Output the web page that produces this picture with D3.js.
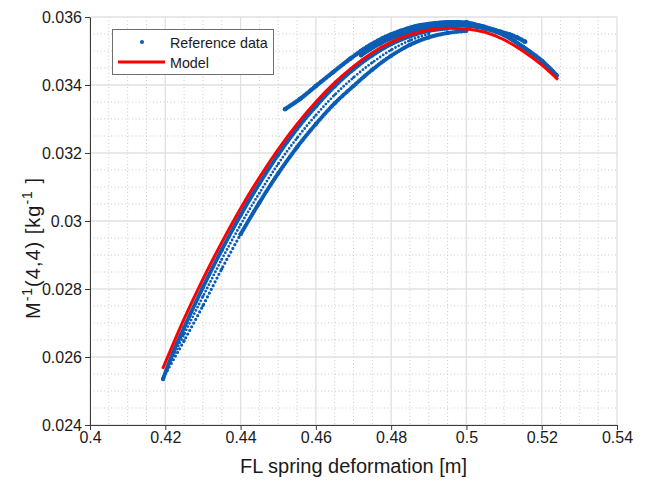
<!DOCTYPE html>
<html><head><meta charset="utf-8">
<script src="https://cdn.jsdelivr.net/npm/d3@7"></script>
<style>
body{margin:0;background:#fff;}
svg text{font-family:"Liberation Sans",Arial,Helvetica,sans-serif;fill:#1a1a1a;}
</style></head><body>
<svg id="chart" width="650" height="481"></svg>
<script>
// ---- tick values and labels ----
const xTicks = [0.4, 0.42, 0.44, 0.46, 0.48, 0.5, 0.52, 0.54];
const xTickLabels = ["0.4", "0.42", "0.44", "0.46", "0.48", "0.5", "0.52", "0.54"];
const yTicks = [0.024, 0.026, 0.028, 0.03, 0.032, 0.034, 0.036];
const yTickLabels = ["0.024", "0.026", "0.028", "0.03", "0.032", "0.034", "0.036"];

// ---- model (red line) ----
const modelX = [0.4193, 0.425, 0.43, 0.435, 0.44, 0.445, 0.45, 0.455, 0.46, 0.465, 0.47, 0.475, 0.48, 0.485, 0.49, 0.495, 0.5, 0.505, 0.51, 0.515, 0.52, 0.5243];
const modelY = [0.02565, 0.02712, 0.02829, 0.02937, 0.03037, 0.03128, 0.03211, 0.03285, 0.0335, 0.03407, 0.03455, 0.03495, 0.03526, 0.03548, 0.03562, 0.03567, 0.03565, 0.03555, 0.03533, 0.035, 0.03459, 0.03416];

// ---- reference data (blue dots), read as strands of the point cloud ----
const refInner = [[0.4194,0.02535],[0.422,0.02611],[0.425,0.02686],[0.43,0.02805],[0.435,0.02915],[0.44,0.03017],[0.445,0.0311],[0.45,0.03195],[0.455,0.03271],[0.46,0.03337],[0.465,0.03396],[0.47,0.03446],[0.475,0.03487],[0.48,0.0352],[0.485,0.03543],[0.49,0.03559],[0.495,0.03566]];
const refMiddle = [[0.4205,0.02566],[0.425,0.02667],[0.43,0.02778],[0.435,0.02887],[0.44,0.02989],[0.445,0.03082],[0.45,0.03168],[0.455,0.03244],[0.46,0.03311],[0.465,0.03371],[0.47,0.03422],[0.475,0.03466],[0.48,0.03503],[0.485,0.03531],[0.49,0.0355]];
const refOuterLow = [[0.4205,0.0256],[0.425,0.02648],[0.43,0.02751],[0.435,0.02859],[0.44,0.02961]];
const refOuter = [[0.44,0.02961],[0.445,0.03054],[0.45,0.0314],[0.455,0.03217],[0.46,0.03285],[0.465,0.03346],[0.47,0.03397],[0.475,0.03445],[0.48,0.03486],[0.485,0.03518],[0.49,0.0354],[0.495,0.03553],[0.5,0.03559]];
const refUpper = [[0.4518,0.03329],[0.4558,0.03359],[0.46,0.03397],[0.4646,0.03438],[0.4691,0.03477],[0.4736,0.03512],[0.4778,0.03538],[0.4824,0.03559],[0.4869,0.03574],[0.4917,0.03582],[0.4956,0.03585],[0.5,0.03584]];
const refUpperMid = [[0.472,0.03488],[0.477,0.03522],[0.482,0.03546],[0.487,0.03562],[0.492,0.03572],[0.497,0.03576]];
const refUpperRight = [[0.5,0.03584],[0.5044,0.03572],[0.5089,0.03557],[0.5116,0.03548],[0.5134,0.0354],[0.5156,0.03527]];
const refRight = [[0.485,0.03556],[0.49,0.03571],[0.495,0.03577],[0.5,0.03575],[0.505,0.03566],[0.51,0.03547],[0.515,0.03512],[0.52,0.03471],[0.524,0.03428]];

// ---- layout ----
const svg = d3.select("#chart");
const L = 90, R = 617, T = 17, B = 425;
const x = d3.scaleLinear().domain([0.4, 0.54]).range([L, R]);
const y = d3.scaleLinear().domain([0.024, 0.036]).range([B, T]);
const blue = "#0b5cb3";

// grid
const g = svg.append("g");
const xMinor = d3.range(0.4, 0.5401, 0.005).filter(v => !xTicks.some(t => Math.abs(t - v) < 1e-6));
const yMinor = d3.range(0.024, 0.03601, 0.0005).filter(v => !yTicks.some(t => Math.abs(t - v) < 1e-7));
g.selectAll(".xm").data(xMinor).join("line").attr("x1", d => x(d)).attr("x2", d => x(d)).attr("y1", T).attr("y2", B)
  .attr("stroke", "#cbcbcb").attr("stroke-width", 1).attr("stroke-dasharray", "1,2.5");
g.selectAll(".ym").data(yMinor).join("line").attr("y1", d => y(d)).attr("y2", d => y(d)).attr("x1", L).attr("x2", R)
  .attr("stroke", "#cbcbcb").attr("stroke-width", 1).attr("stroke-dasharray", "1,2.5");
g.selectAll(".xM").data(xTicks).join("line").attr("x1", d => x(d)).attr("x2", d => x(d)).attr("y1", T).attr("y2", B)
  .attr("stroke", "#e0e0e0").attr("stroke-width", 1.3);
g.selectAll(".yM").data(yTicks).join("line").attr("y1", d => y(d)).attr("y2", d => y(d)).attr("x1", L).attr("x2", R)
  .attr("stroke", "#e0e0e0").attr("stroke-width", 1.3);

// axes
const xAxis = d3.axisBottom(x).tickValues(xTicks).tickFormat((d, i) => xTickLabels[i]).tickSizeInner(5).tickSizeOuter(0).tickPadding(2);
const yAxis = d3.axisLeft(y).tickValues(yTicks).tickFormat((d, i) => yTickLabels[i]).tickSizeInner(5).tickSizeOuter(0).tickPadding(3);
const gx = svg.append("g").attr("transform", `translate(0,${B})`).call(xAxis);
const gy = svg.append("g").attr("transform", `translate(${L},0)`).call(yAxis);
[gx, gy].forEach(a => {
  a.select(".domain").attr("stroke", "#3a3a3a").attr("stroke-width", 1);
  a.selectAll(".tick line").attr("stroke", "#3a3a3a");
  a.selectAll(".tick text").attr("font-size", 16).attr("fill", "#1a1a1a").attr("font-family", "Liberation Sans, Arial, sans-serif");
});

// reference data strands, drawn as rows of round dots
const line = d3.line().x(d => x(d[0])).y(d => y(d[1])).curve(d3.curveMonotoneX);
const strands = [
  {data: refOuterLow, w: 3.2, gap: 4.2},
  {data: refMiddle, w: 2.8, gap: 3.6},
  {data: refOuter, w: 4.2, gap: 2},
  {data: refInner, w: 4.2, gap: 2},
  {data: refUpper, w: 4.4, gap: 1.8},
  {data: refUpperMid, w: 4.6, gap: 1.8},
  {data: refUpperRight, w: 4.6, gap: 1.8},
  {data: refRight, w: 4.6, gap: 1.8}
];
const ref = svg.append("g").attr("class", "reference");
strands.forEach(s => {
  ref.append("path").datum(s.data).attr("d", line).attr("fill", "none").attr("stroke", blue)
    .attr("stroke-width", s.w).attr("stroke-linecap", "round").attr("stroke-dasharray", `0 ${s.gap}`);
  ref.append("g").selectAll("circle").data(s.data).join("circle")
    .attr("cx", d => x(d[0])).attr("cy", d => y(d[1])).attr("r", s.w / 2).attr("fill", blue);
});

// model line
const model = modelX.map((v, i) => [v, modelY[i]]);
svg.append("path").datum(model).attr("d", line).attr("fill", "none").attr("stroke", "#ff0000")
  .attr("stroke-width", 3).attr("stroke-linejoin", "round");

// legend
const lg = svg.append("g");
lg.append("rect").attr("x", 112.5).attr("y", 29.5).attr("width", 161).attr("height", 45)
  .attr("fill", "#fff").attr("stroke", "#6e6e6e").attr("stroke-width", 1);
lg.append("circle").attr("cx", 142).attr("cy", 42).attr("r", 2).attr("fill", blue);
lg.append("text").attr("x", 170).attr("y", 48).attr("font-size", 14.3).text("Reference data");
lg.append("line").attr("x1", 118).attr("x2", 165).attr("y1", 62).attr("y2", 62).attr("stroke", "#ff0000").attr("stroke-width", 3);
lg.append("text").attr("x", 170).attr("y", 68).attr("font-size", 14.3).text("Model");

// axis labels
svg.append("text").attr("x", (L + R) / 2).attr("y", 473).attr("text-anchor", "middle").attr("font-size", 20)
  .text("FL spring deformation [m]");
const yl = svg.append("text").attr("transform", "translate(40,248) rotate(-90)").attr("text-anchor", "middle")
  .attr("font-size", 20).attr("letter-spacing", 1);
yl.append("tspan").text("M");
yl.append("tspan").attr("dy", -8).attr("font-size", 14).text("-1");
yl.append("tspan").attr("dy", 8).text("(4,4) [kg");
yl.append("tspan").attr("dy", -8).attr("font-size", 14).text("-1");
yl.append("tspan").attr("dy", 8).text(" ]");
</script>
</body></html>
